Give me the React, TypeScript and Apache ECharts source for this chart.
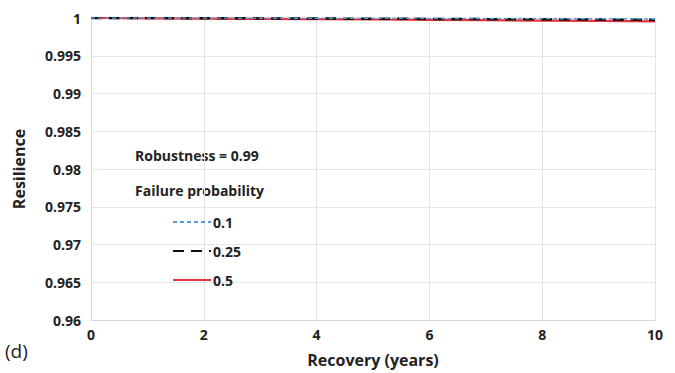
import React, { useEffect, useRef } from "react";
import * as echarts from "echarts";

const recoveryYears = [0, 1, 2, 3, 4, 5, 6, 7, 8, 9, 10];
const resilienceP01 = [1, 1, 0.99999, 0.99998, 0.99997, 0.99996, 0.99995, 0.99993, 0.99992, 0.9999, 0.99988];
const resilienceP025 = [1, 0.99999, 0.99997, 0.99995, 0.99993, 0.9999, 0.99988, 0.99985, 0.99982, 0.99979, 0.99975];
const resilienceP05 = [1, 0.99996, 0.99992, 0.99988, 0.99984, 0.9998, 0.99976, 0.99971, 0.99966, 0.99961, 0.99955];
const seriesNames = ["0.1", "0.25", "0.5"];
const xTicks = [0, 2, 4, 6, 8, 10];
const yMin = 0.96;
const yMax = 1;

const FONT = "'Open Sans', 'Liberation Sans', sans-serif";

export default function App() {
  const ref = useRef<HTMLDivElement>(null);
  useEffect(() => {
    if (!ref.current) return;
    const chart = echarts.init(ref.current, undefined, { renderer: "svg" });
    const toPairs = (vals: number[]) => recoveryYears.map((x, i) => [x, vals[i]]);
    chart.setOption({
      animation: false,
      backgroundColor: "#ffffff",
      grid: { left: 91, right: 20, top: 18, bottom: 51, containLabel: false },
      xAxis: {
        type: "value",
        min: xTicks[0],
        max: xTicks[xTicks.length - 1],
        interval: 2,
        name: "Recovery (years)",
        nameLocation: "middle",
        nameGap: 32,
        nameTextStyle: { fontFamily: FONT, fontWeight: "bold", fontSize: 16, color: "#222" },
        axisLine: { show: true, lineStyle: { color: "#d9d9d9" } },
        axisTick: { show: false },
        axisLabel: { fontFamily: FONT, fontWeight: "bold", fontSize: 14, color: "#222", margin: 7 },
        splitLine: { show: true, lineStyle: { color: "#e3e3e3" } },
      },
      yAxis: {
        type: "value",
        min: yMin,
        max: yMax,
        interval: 0.005,
        name: "Resilience",
        nameLocation: "middle",
        nameGap: 64,
        nameRotate: 90,
        nameTextStyle: { fontFamily: FONT, fontWeight: "bold", fontSize: 16, color: "#222" },
        axisLine: { show: true, lineStyle: { color: "#d9d9d9" } },
        axisTick: { show: false },
        axisLabel: {
          fontFamily: FONT,
          fontWeight: "bold",
          fontSize: 14,
          color: "#222",
          margin: 10,
          formatter: (v: number) => String(parseFloat(v.toFixed(3))),
        },
        splitLine: { show: true, lineStyle: { color: "#e6e6e6" } },
      },
      legend: {
        orient: "vertical",
        left: 167,
        top: 210,
        itemWidth: 38,
        itemHeight: 14,
        itemGap: 15,
        itemSymbol: "none",
        data: seriesNames,
        itemStyle: { opacity: 0 },
        textStyle: { fontFamily: FONT, fontWeight: "bold", fontSize: 14, color: "#222", padding: [0, 0, 0, -3] },
      },
      graphic: [
        {
          type: "text",
          left: 135,
          top: 148,
          style: { text: "Robustness = 0.99", font: `bold 14px ${FONT}`, fill: "#222" },
        },
        {
          type: "text",
          left: 135,
          top: 183,
          style: { text: "Failure probability", font: `bold 14px ${FONT}`, fill: "#222" },
        },
        {
          type: "text",
          left: 5,
          top: 341,
          style: { text: "(d)", font: `19px ${FONT}`, fill: "#222" },
        },
      ],
      series: [
        {
          name: seriesNames[2],
          type: "line",
          data: toPairs(resilienceP05),
          showSymbol: false,
          symbol: "none",
          z: 2,
          lineStyle: { color: "#e8313c", width: 2.2, type: "solid" },
          itemStyle: { color: "#e8313c" },
        },
        {
          name: seriesNames[1],
          type: "line",
          data: toPairs(resilienceP025),
          showSymbol: false,
          symbol: "none",
          z: 3,
          lineStyle: { color: "#111111", width: 2.5, type: [11, 7] },
          itemStyle: { color: "#111111" },
        },
        {
          name: seriesNames[0],
          type: "line",
          data: toPairs(resilienceP01),
          showSymbol: false,
          symbol: "none",
          z: 4,
          lineStyle: { color: "#5b9bd5", width: 1.5, type: [4, 3] },
          itemStyle: { color: "#5b9bd5" },
        },
      ],
    });
    return () => chart.dispose();
  }, []);
  return <div ref={ref} style={{ width: 675, height: 373, position: "absolute", left: 0, top: 0 }} />;
}
